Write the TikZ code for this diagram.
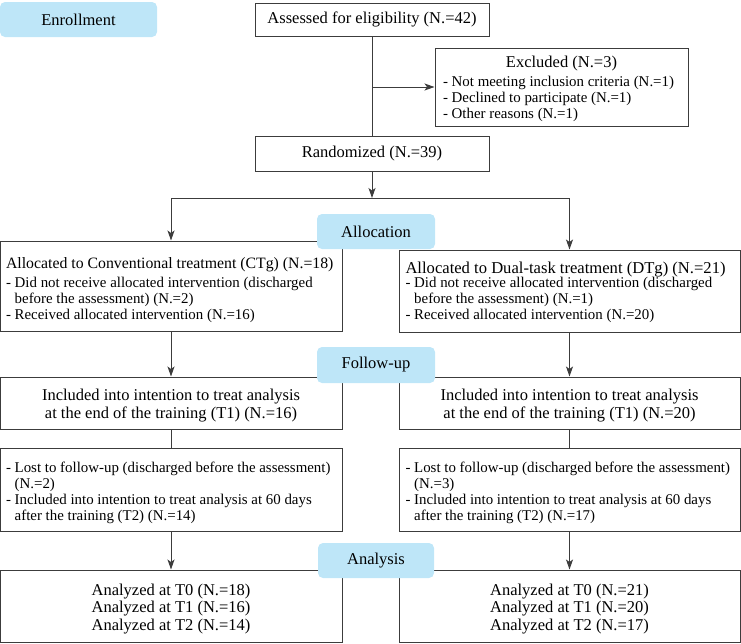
\documentclass[tikz,border=0pt]{standalone}
\usepackage{fontspec}
\setmainfont{Liberation Serif}
\usetikzlibrary{arrows.meta}
\definecolor{stageblue}{RGB}{190,230,248}
\definecolor{linegray}{RGB}{60,60,60}
\newcommand{\bigtxt}{\fontsize{16.5}{18}\selectfont}
\newcommand{\smalltxt}{\fontsize{14.9}{16}\selectfont}
\newcommand{\cont}{\phantom{-\ }}
\newcommand{\drop}[1]{\rule{0pt}{#1}}
\tikzstyle{stagetitle} = [fill=stageblue, rounded corners=5pt, inner sep=0pt, font=\bigtxt]
\tikzstyle{flowbox} = [draw=linegray, line width=1pt, inner sep=0pt, align=center, font=\bigtxt]
\tikzstyle{listbox} = [draw=linegray, line width=1pt, inner ysep=0pt, align=left, font=\smalltxt,
	execute at begin node={\spaceskip=0pt\xspaceskip=0pt}]
\tikzstyle{flowline} = [draw=linegray, line width=1pt]
\tikzstyle{flowarrow} = [flowline, -{Stealth[length=10pt,width=7pt,inset=2.5pt]}]

\begin{document}
\begin{tikzpicture}[x=1pt, y=-1pt]
	\useasboundingbox (0,0) rectangle (741,643);
	% enrollment
	\node [stagetitle, minimum width=157pt, minimum height=35pt] (enroll) at (78.5,19.5) {Enrollment};
	\node [flowbox, minimum width=234pt, minimum height=33pt] (assess) at (372,19.5) {Assessed for eligibility (N.=42)};
	\node [listbox, inner xsep=8pt, text width=237pt, minimum height=78pt] (excl) at (561.5,87) {%
		\makebox[\linewidth]{\bigtxt\drop{16pt}Excluded (N.=3)}\\[3pt]
		- Not meeting inclusion criteria (N.=1)\\
		- Declined to participate (N.=1)\\
		- Other reasons (N.=1)};
	\node [flowbox, minimum width=234pt, minimum height=35pt] (rand) at (372,153.5) {Randomized (N.=39)};
	\coordinate (branch) at (assess.south |- excl.west);
	\coordinate (split) at (372,198);
	% allocation
	\node [listbox, inner xsep=6pt, text width=330pt, minimum height=90pt] (cta) at (171,286) {%
		{\fontsize{15.8}{18}\selectfont\drop{19pt}Allocated to Conventional treatment (CTg) (N.=18)}\\[3pt]
		- Did not receive allocated intervention (discharged\\
		\cont before the assessment) (N.=2)\\
		- Received allocated intervention (N.=16)};
	\node [listbox, inner xsep=6.5pt, text width=328pt, minimum height=82pt] (dta) at (569.5,291) {%
		{\fontsize{16.6}{18}\selectfont\drop{14pt}Allocated to Dual-task treatment (DTg) (N.=21)}\\[-2pt]
		- Did not receive allocated intervention (discharged\\
		\cont before the assessment) (N.=1)\\
		- Received allocated intervention (N.=20)};
	% follow-up
	\node [flowbox, minimum width=342pt, minimum height=52pt] (ctf) at (171,403) {\drop{17.5pt}Included into intention to treat analysis\\at the end of the training (T1) (N.=16)};
	\node [flowbox, minimum width=341pt, minimum height=52pt] (dtf) at (569.5,403) {\drop{17.5pt}Included into intention to treat analysis\\at the end of the training (T1) (N.=20)};
	\node [listbox, inner xsep=6pt, text width=330pt, minimum height=83pt] (ctl) at (171,489.5) {%
		\drop{17pt}- Lost to follow-up (discharged before the assessment)\\
		\cont (N.=2)\\
		- Included into intention to treat analysis at 60 days\\
		\cont after the training (T2) (N.=14)};
	\node [listbox, inner xsep=6.5pt, text width=328pt, minimum height=83pt] (dtl) at (569.5,489.5) {%
		\drop{17pt}- Lost to follow-up (discharged before the assessment)\\
		\cont (N.=3)\\
		- Included into intention to treat analysis at 60 days\\
		\cont after the training (T2) (N.=17)};
	% analysis
	\node [flowbox, minimum width=342pt, minimum height=72pt] (cty) at (171,606) {\drop{17.5pt}Analyzed at T0 (N.=18)\\[-0.5pt]Analyzed at T1 (N.=16)\\[-0.5pt]Analyzed at T2 (N.=14)};
	\node [flowbox, minimum width=341pt, minimum height=72pt] (dty) at (569.5,606) {\drop{17.5pt}Analyzed at T0 (N.=21)\\[-0.5pt]Analyzed at T1 (N.=20)\\[-0.5pt]Analyzed at T2 (N.=17)};
	% connectors
	\draw [flowline] (assess) -- (rand);
	\draw [flowarrow] (branch) -- (excl);
	\draw [flowarrow] (rand) -- (split);
	\draw [flowline] (cta.north |- split) -- (dta.north |- split);
	\draw [flowarrow] (cta.north |- split) -- (cta);
	\draw [flowarrow] (dta.north |- split) -- (dta);
	\draw [flowarrow] (cta) -- (ctf);
	\draw [flowarrow] (dta) -- (dtf);
	\draw [flowline] (ctf) -- (ctl);
	\draw [flowline] (dtf) -- (dtl);
	\draw [flowarrow] (ctl) -- (cty);
	\draw [flowarrow] (dtl) -- (dty);
	% stage titles on top
	\node [stagetitle, minimum width=118pt, minimum height=35pt] (alloc) at (376,231.5) {Allocation};
	\node [stagetitle, minimum width=118pt, minimum height=36pt] (follow) at (376,365) {Follow-up};
	\node [stagetitle, minimum width=116pt, minimum height=35pt] (analysis) at (376,560.5) {Analysis};
\end{tikzpicture}
\end{document}
